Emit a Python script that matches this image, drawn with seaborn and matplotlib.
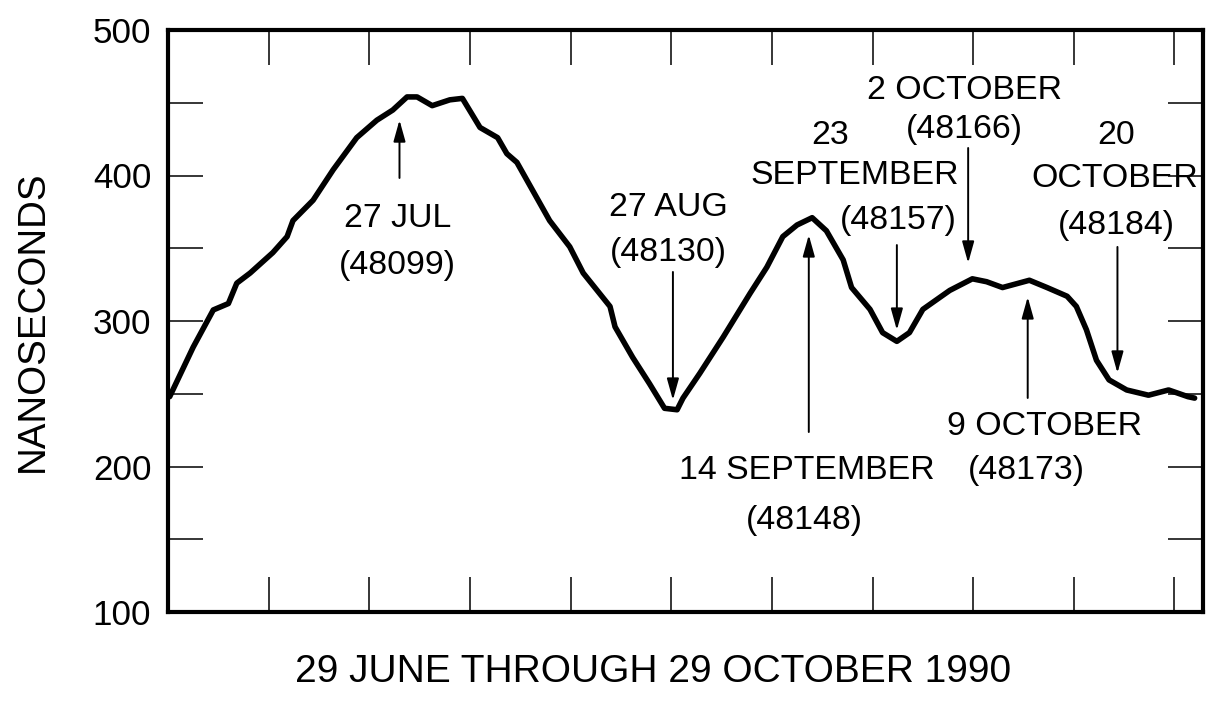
import matplotlib
matplotlib.use("Agg")
import matplotlib.pyplot as plt
import matplotlib.font_manager as fm
from matplotlib.transforms import offset_copy
from matplotlib.ticker import FixedLocator, NullFormatter
import numpy as np
import pandas as pd
import seaborn as sns

# ---------------- data (MJD day, nanoseconds) ----------------
mjd = [48071.2, 48074.0, 48076.4, 48078.2, 48079.2, 48080.8, 48083.5, 48085.2,
       48085.9, 48088.3, 48090.7, 48093.5, 48095.9, 48097.8, 48099.5, 48100.7,
       48102.5, 48104.6, 48106.1, 48108.2, 48110.3, 48111.4, 48112.6, 48116.5,
       48118.9, 48120.5, 48123.7, 48124.3, 48126.4, 48128.4, 48130.2, 48131.7,
       48132.4, 48134.4, 48137.2, 48140.4, 48142.4, 48144.3, 48146.0, 48147.8,
       48149.5, 48151.5, 48152.5, 48154.7, 48156.2, 48157.9, 48159.4, 48161.0,
       48164.2, 48166.9, 48168.6, 48170.5, 48173.7, 48175.8, 48178.2, 48179.3,
       48180.5, 48181.7, 48183.2, 48185.3, 48187.9, 48190.3, 48192.6, 48193.4]
nanoseconds = [248, 282, 307.6, 312, 326, 333, 347, 358,
               369, 383, 404, 426, 438, 445, 454, 454,
               448, 452, 453, 433, 426, 415, 409, 369,
               351, 333, 310, 296, 275, 257, 240, 239,
               247, 264, 289, 319, 337, 358, 366, 371,
               362, 342, 323, 308, 292, 286, 292, 308,
               321, 329, 327, 323, 328, 323, 317, 310,
               294, 273, 259.5, 252.6, 249, 252.6, 248, 247]

y_tick_values = [100, 200, 300, 400, 500]
y_tick_labels = ["100", "200", "300", "400", "500"]
x_label = "29 JUNE THROUGH 29 OCTOBER 1990"
y_label = "NANOSECONDS"

# annotation texts: (text, x, y-center)
annot_texts = [
    ("27 JUL", 48098.4, 374.2), ("(48099)", 48098.4, 341.9),
    ("27 AUG", 48130.6, 381.8), ("(48130)", 48130.6, 350.9),
    ("14 SEPTEMBER", 48147.2, 201.0), ("(48148)", 48146.9, 166.7),
    ("23", 48150.0, 431.3), ("SEPTEMBER", 48152.9, 403.8), ("(48157)", 48158.1, 372.9),
    ("2 OCTOBER", 48166.0, 462.2), ("(48166)", 48165.9, 435.4),
    ("9 OCTOBER", 48175.5, 231.3), ("(48173)", 48173.4, 201.0),
    ("20", 48184.1, 431.3), ("OCTOBER", 48183.9, 401.7), ("(48184)", 48184.1, 369.4),
]
# arrows: (x, y_tail, y_head)
annot_arrows = [
    (48098.6, 398.3, 438.1),
    (48131.2, 333.7, 245.7),
    (48147.4, 223.7, 359.1),
    (48157.9, 352.2, 293.8),
    (48166.4, 418.9, 339.9),
    (48173.5, 247.1, 316.5),
    (48184.2, 350.9, 264.3),
]

# ---------------- style ----------------
sns.set_style("ticks")
names = {f.name for f in fm.fontManager.ttflist}
if "Liberation Sans Narrow" in names:
    fam = ["Liberation Sans Narrow", "DejaVu Sans"]
    scale = 1.0
else:
    fam = ["Liberation Sans", "DejaVu Sans"]
    scale = 0.84
plt.rcParams["font.family"] = fam
for key in ["text.color", "axes.labelcolor", "xtick.color", "ytick.color",
            "axes.edgecolor"]:
    plt.rcParams[key] = "black"

fig = plt.figure(figsize=(12.07, 7.15), dpi=100)
ax = fig.add_axes([168 / 1207, 1 - 612 / 715, (1203 - 168) / 1207, (612 - 30) / 715])

df = pd.DataFrame({"mjd": mjd, "ns": nanoseconds})
sns.lineplot(data=df, x="mjd", y="ns", ax=ax, color="black", lw=4.0,
             estimator=None, sort=False)
for l in ax.lines:
    l.set_solid_joinstyle("round")
    l.set_solid_capstyle("round")

ax.set_xlim(48071, 48194.4)
ax.set_ylim(100, 500)

ax.xaxis.set_major_locator(FixedLocator(list(np.arange(48083, 48194, 12))))
ax.xaxis.set_major_formatter(NullFormatter())
ax.yaxis.set_major_locator(FixedLocator(y_tick_values))
ax.set_yticklabels(y_tick_labels)
ax.yaxis.set_minor_locator(FixedLocator([150, 250, 350, 450]))

ax.tick_params(axis="both", which="both", direction="in", length=25, width=1.1,
               color="black", top=True, right=True, bottom=True, left=True)
ax.tick_params(axis="y", which="major", labelsize=30 * scale, pad=12,
               labelcolor="black")

for s in ax.spines.values():
    s.set_linewidth(3.0)
    s.set_color("black")

ax.set_xlabel("")
ax.set_ylabel(y_label, fontsize=33 * scale, color="black")
ax.yaxis.set_label_coords((51 - 168) / 1035, 0.5)
fig.text(653 / 1207, 1 - 672 / 715, x_label, fontsize=33.3 * scale,
         ha="center", va="center", color="black")

cap_px = 28
tr = offset_copy(ax.transData, fig=fig, x=0, y=-cap_px / 2, units="dots")
for txt, x, y in annot_texts:
    ax.text(x, y, txt, transform=tr, ha="center", va="baseline",
            fontsize=29 * scale, color="black")

for x, yt, yh in annot_arrows:
    ax.annotate("", xy=(x, yh), xytext=(x, yt),
                arrowprops=dict(arrowstyle="-|>,head_length=1.0,head_width=0.28",
                                mutation_scale=13, lw=1.4, color="black",
                                shrinkA=0, shrinkB=0))

fig.savefig("out.png", dpi=100)
